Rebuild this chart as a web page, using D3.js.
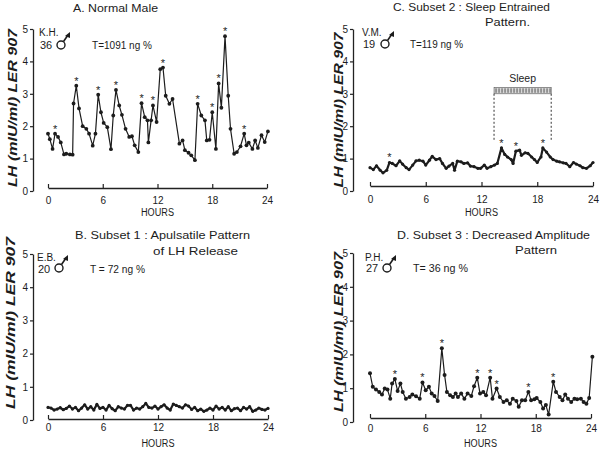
<!DOCTYPE html>
<html>
<head>
<meta charset="utf-8">
<script src="https://cdn.jsdelivr.net/npm/d3@7"></script>
<style>
body { margin: 0; background: #fff; }
svg { display: block; }
text { font-family: "Liberation Sans", Arial, sans-serif; fill: #1c1c1c; }
</style>
</head>
<body>
<script>
// hour ticks shared by all four panels
var hourTicks = [0, 6, 12, 18, 24];
var lhTicks = [0, 1, 2, 3, 4, 5];

// A. Normal Male
var aHours = [0, 0.2, 0.5, 0.77, 1.1, 1.4, 1.75, 2.0, 2.4, 2.7, 2.8, 3.1, 3.4, 3.8, 4.2, 4.5, 4.9, 5.2, 5.5, 5.8,
  6.1, 6.5, 6.9, 7.15, 7.45, 7.8, 8.1, 8.5, 8.9, 9.2, 9.5, 9.9, 10.25, 10.6, 10.9, 11.0, 11.3, 11.5, 11.9, 12.3,
  12.6, 12.9, 13.3, 13.65, 14.4, 14.75, 15.0, 15.4, 15.7, 16.1, 16.4, 16.8, 17.2, 17.4, 17.7, 18.0, 18.4, 18.7, 19.0, 19.4,
  19.75, 20.0, 20.4, 20.7, 21.1, 21.5, 21.75, 22.0, 22.4, 22.7, 23.0, 23.4, 23.75, 24.1];
var aValues = [1.77, 1.6, 1.3, 1.77, 1.67, 1.5, 1.13, 1.15, 1.13, 1.12, 2.7, 3.25, 2.55, 2.0, 1.92, 1.77, 1.4, 1.77, 2.97, 2.43,
  2.1, 1.97, 1.29, 2.33, 3.12, 2.64, 2.35, 1.92, 1.67, 1.69, 1.41, 1.2, 2.71, 2.28, 2.18, 1.5, 2.18, 2.64, 2.13, 3.76,
  3.81, 2.94, 2.69, 2.84, 1.46, 1.56, 1.26, 1.18, 1.1, 0.95, 2.69, 2.33, 2.18, 1.56, 1.58, 2.43, 1.3, 3.32, 2.57, 4.78,
  2.94, 1.92, 1.15, 1.2, 1.38, 1.77, 1.41, 1.49, 1.3, 1.56, 1.33, 1.72, 1.51, 1.84];
var aStars = [0.77, 3.1, 5.5, 7.45, 10.25, 11.5, 12.6, 16.4, 18.0, 18.7, 19.4, 21.5];

// B. Subset 1 (one sample every 20 min)
var bValues = [0.38, 0.36, 0.30, 0.33, 0.37, 0.31, 0.35, 0.42, 0.33, 0.38, 0.28, 0.36, 0.46, 0.33, 0.40, 0.30, 0.47, 0.35,
  0.38, 0.30, 0.44, 0.34, 0.28, 0.40, 0.36, 0.33, 0.44, 0.44, 0.30, 0.36, 0.33, 0.40, 0.50, 0.38, 0.36, 0.42, 0.33,
  0.40, 0.46, 0.36, 0.30, 0.48, 0.44, 0.40, 0.36, 0.46, 0.42, 0.32, 0.38, 0.28, 0.33, 0.26, 0.30, 0.36, 0.30, 0.42,
  0.33, 0.38, 0.30, 0.40, 0.28, 0.34, 0.36, 0.28, 0.38, 0.33, 0.40, 0.26, 0.30, 0.36, 0.32, 0.30, 0.35];
var bHours = bValues.map(function(v, i) { return i * 24 / (bValues.length - 1); });
var bStars = [];

// C. Subset 2 : Sleep Entrained
var cHours = [0, 0.36, 0.7, 1.1, 1.4, 1.8, 2.1, 2.4, 2.8, 3.2, 3.5, 3.9, 4.2, 4.6, 4.95, 5.3, 5.7, 6.0, 6.4, 6.7,
  7.1, 7.5, 7.8, 8.2, 8.5, 8.9, 9.1, 9.4, 9.8, 10.1, 10.5, 10.8, 11.2, 11.6, 11.9, 12.3, 12.6, 13.0, 13.4, 13.7,
  14.15, 14.5, 14.8, 15.2, 15.4, 15.7, 16.1, 16.3, 16.7, 17.0, 17.4, 17.7, 18.0, 18.4, 18.6, 19.0, 19.4, 19.7, 20.1, 20.4,
  20.8, 21.1, 21.5, 21.9, 22.2, 22.6, 22.9, 23.3, 23.7, 24.0];
var cValues = [0.72, 0.66, 0.78, 0.64, 0.56, 0.64, 0.88, 0.85, 0.78, 0.93, 0.83, 0.72, 0.66, 0.8, 0.93, 0.95, 0.92, 0.8, 0.95, 1.07,
  0.97, 1.0, 0.85, 0.7, 0.77, 0.85, 0.64, 0.92, 0.9, 0.85, 0.87, 0.77, 0.75, 0.7, 0.7, 0.8, 0.7, 0.75, 0.8, 0.85,
  1.33, 1.13, 1.05, 0.97, 0.85, 1.23, 1.26, 1.1, 1.18, 1.16, 1.05, 0.97, 0.88, 1.05, 1.33, 1.2, 1.05, 0.97, 0.92, 0.9,
  0.87, 0.85, 0.75, 0.88, 0.83, 0.78, 0.72, 0.7, 0.78, 0.88];
var cStars = [2.1, 14.15, 15.7, 18.6];
var sleepHours = [13.35, 19.5];

// D. Subset 3 : Decreased Amplitude
var dHours = [0, 0.3, 0.65, 1.0, 1.3, 1.6, 1.9, 2.2, 2.4, 2.7, 3.0, 3.3, 3.55, 3.9, 4.3, 4.6, 5.0, 5.4, 5.7, 6.05,
  6.4, 6.7, 7.0, 7.35, 7.8, 8.1, 8.35, 8.7, 9.0, 9.3, 9.55, 9.9, 10.25, 10.6, 11.0, 11.3, 11.65, 11.95, 12.3, 12.6,
  13.05, 13.3, 13.75, 14.1, 14.5, 14.85, 15.2, 15.5, 15.9, 16.15, 16.5, 16.85, 17.2, 17.5, 17.85, 18.1, 18.5, 18.8, 19.1, 19.4,
  19.9, 20.2, 20.6, 20.9, 21.2, 21.5, 21.85, 22.2, 22.5, 22.9, 23.2, 23.5, 23.8, 24.15];
var dValues = [1.44, 1.04, 0.96, 0.89, 0.81, 0.99, 0.96, 0.69, 1.14, 1.27, 0.92, 1.14, 0.89, 0.69, 0.74, 0.81, 0.76, 0.69, 1.17, 0.94,
  1.04, 0.84, 0.77, 0.62, 2.18, 1.39, 0.89, 0.79, 0.74, 0.84, 0.74, 0.84, 0.69, 0.84, 0.77, 1.06, 1.31, 0.84, 0.89, 0.79,
  1.31, 0.69, 0.99, 0.74, 0.59, 0.64, 0.54, 0.69, 0.62, 0.45, 0.64, 0.64, 0.89, 0.64, 0.67, 0.71, 0.59, 0.4, 0.5, 0.22,
  1.19, 0.89, 0.74, 0.64, 0.81, 0.69, 0.59, 0.69, 0.67, 0.69, 0.59, 0.54, 0.71, 1.93];
var dStars = [2.7, 5.7, 7.8, 11.65, 13.05, 13.75, 17.2, 19.9];

var width = 600;
var height = 449;

var svg = d3.select('body').append('svg')
  .attr('width', width)
  .attr('height', height);

var panels = [
  { hours: aHours, values: aValues, stars: aStars,
    axisX: 33, x0: 48, x1: 267, y0: 191, y5: 29, hourY: 188, tickY: 204, hoursLabelY: 216,
    weight: 1.2, dot: 1.9,
    yLabel: { x: 12, y: 108, len: 158 },
    title: [{ t: 'A.  Normal Male', x: 73, y: 12, len: 85 }],
    name: 'K.H.', age: '36', nameX: 39, nameY: 36, ageY: 49, sex: [61, 45], tLabel: 'T=1091 ng %', tX: 92, tLen: 60 },
  { hours: bHours, values: bValues, stars: bStars,
    axisX: 33, x0: 48, x1: 268, y0: 420, y5: 254, hourY: 419, tickY: 431, hoursLabelY: 447,
    weight: 2.2, dot: 1.6,
    yLabel: { x: 10, y: 323, len: 172 },
    title: [{ t: 'B.  Subset 1 : Apulsatile Pattern', x: 75, y: 239, len: 175 },
            { t: 'of LH Release', x: 153, y: 255, len: 85 }],
    name: 'E.B.', age: '20', nameX: 37, nameY: 261, ageY: 273, sex: [59, 268], tLabel: 'T = 72 ng %', tX: 90, tLen: 55 },
  { hours: cHours, values: cValues, stars: cStars, sleep: sleepHours,
    axisX: 353, x0: 370, x1: 593, y0: 191, y5: 29, hourY: 186, tickY: 203, hoursLabelY: 216,
    weight: 2.2, dot: 1.6,
    yLabel: { x: 338, y: 110, len: 155 },
    title: [{ t: 'C.  Subset 2 : Sleep Entrained', x: 393, y: 11, len: 157 },
            { t: 'Pattern.', x: 485, y: 26, len: 45 }],
    name: 'V.M.', age: '19', nameX: 362, nameY: 36, ageY: 48, sex: [385, 44], tLabel: 'T=119 ng %', tX: 410, tLen: 53 },
  { hours: dHours, values: dValues, stars: dStars,
    axisX: 353, x0: 370, x1: 591, y0: 422, y5: 253, hourY: 418, tickY: 432, hoursLabelY: 447,
    weight: 1.2, dot: 2.0,
    yLabel: { x: 338, y: 332, len: 160 },
    title: [{ t: 'D.  Subset 3 : Decreased Amplitude', x: 397, y: 239, len: 193 },
            { t: 'Pattern', x: 515, y: 254, len: 42 }],
    name: 'P.H.', age: '27', nameX: 365, nameY: 261, ageY: 272, sex: [387, 268], tLabel: 'T= 36 ng %', tX: 413, tLen: 55 }
];

panels.forEach(function(p) {
  var g = svg.append('g');

  var x = d3.scaleLinear().domain([0, 24]).range([p.x0, p.x1]);
  var y = d3.scaleLinear().domain([0, 5]).range([p.y0, p.y5]);

  // y axis
  var yAxis = g.append('g')
    .attr('transform', 'translate(' + p.axisX + ',0)')
    .call(d3.axisLeft(y).tickValues(lhTicks).tickFormat(d3.format('d'))
      .tickSize(3).tickPadding(2).tickSizeOuter(0));
  yAxis.select('.domain').attr('stroke', '#222').attr('stroke-width', 1.3);
  yAxis.selectAll('line').attr('stroke', '#222').attr('stroke-width', 1.2);
  yAxis.selectAll('text').attr('font-size', 10).attr('font-family', '"Liberation Sans", Arial, sans-serif').attr('fill', '#1c1c1c');

  // hours axis, ticks point up
  var xAxis = g.append('g')
    .attr('transform', 'translate(0,' + p.hourY + ')')
    .call(d3.axisBottom(x).tickValues(hourTicks).tickSize(-4).tickSizeOuter(0).tickPadding(0));
  xAxis.select('.domain').attr('stroke', '#222').attr('stroke-width', 1.3);
  xAxis.selectAll('line').attr('stroke', '#222').attr('stroke-width', 1.2);
  xAxis.selectAll('text')
    .attr('y', p.tickY - p.hourY).attr('dy', 0)
    .attr('font-size', 10).attr('font-family', '"Liberation Sans", Arial, sans-serif').attr('fill', '#1c1c1c');

  g.append('text')
    .attr('x', (p.x0 + p.x1) / 2)
    .attr('y', p.hoursLabelY)
    .attr('text-anchor', 'middle')
    .attr('font-size', 10)
    .attr('textLength', 33)
    .attr('lengthAdjust', 'spacingAndGlyphs')
    .text('HOURS');

  // rotated y label
  g.append('text')
    .attr('transform', 'translate(' + (p.yLabel.x + 5) + ',' + p.yLabel.y + ') rotate(-90)')
    .attr('text-anchor', 'middle')
    .attr('font-size', 13)
    .attr('font-style', 'italic')
    .attr('font-weight', 'bold')
    .attr('textLength', p.yLabel.len)
    .attr('lengthAdjust', 'spacingAndGlyphs')
    .text('LH (mIU/ml) LER 907');

  // titles
  p.title.forEach(function(t) {
    g.append('text')
      .attr('x', t.x).attr('y', t.y)
      .attr('font-size', 11.5)
      .attr('textLength', t.len)
      .attr('lengthAdjust', 'spacingAndGlyphs')
      .text(t.t);
  });

  // subject info
  g.append('text').attr('x', p.nameX).attr('y', p.nameY).attr('font-size', 10).text(p.name);
  g.append('text').attr('x', p.nameX + 1).attr('y', p.ageY).attr('font-size', 11).text(p.age);
  g.append('text').attr('x', p.tX).attr('y', p.ageY).attr('font-size', 10.5)
    .attr('textLength', p.tLen).attr('lengthAdjust', 'spacingAndGlyphs').text(p.tLabel);

  // male symbol
  var sx = p.sex[0], sy = p.sex[1];
  g.append('circle').attr('cx', sx).attr('cy', sy).attr('r', 4)
    .attr('fill', 'none').attr('stroke', '#1c1c1c').attr('stroke-width', 1.4);
  g.append('line').attr('x1', sx + 2.5).attr('y1', sy - 3.5).attr('x2', sx + 7).attr('y2', sy - 10)
    .attr('stroke', '#1c1c1c').attr('stroke-width', 1.6);
  g.append('path')
    .attr('d', 'M' + (sx + 9) + ',' + (sy - 13) + ' L' + (sx + 4) + ',' + (sy - 9) + ' L' + (sx + 9) + ',' + (sy - 7) + ' Z')
    .attr('fill', '#1c1c1c');

  // sleep bar
  if (p.sleep) {
    var sx0 = x(p.sleep[0]), sx1 = x(p.sleep[1]);
    var barTop = y(3.2), barBot = y(3.0);
    g.append('rect').attr('x', sx0).attr('y', barTop).attr('width', sx1 - sx0).attr('height', barBot - barTop)
      .attr('fill', '#d8d8d8').attr('stroke', '#555').attr('stroke-width', 0.6);
    g.append('g').selectAll('line').data(d3.range(sx0 + 2, sx1 - 1, 3)).enter().append('line')
      .attr('x1', function(d) { return d; }).attr('x2', function(d) { return d; })
      .attr('y1', barTop + 1).attr('y2', barBot - 1)
      .attr('stroke', '#555').attr('stroke-width', 1);
    [sx0, sx1].forEach(function(xx) {
      g.append('line').attr('x1', xx).attr('x2', xx).attr('y1', barBot).attr('y2', y(1.55))
        .attr('stroke', '#333').attr('stroke-width', 1).attr('stroke-dasharray', '2,2');
    });
    g.append('text').attr('x', (sx0 + sx1) / 2).attr('y', barTop - 5)
      .attr('text-anchor', 'middle').attr('font-size', 10.5).text('Sleep');
  }

  // series
  var pts = p.hours.map(function(h, i) { return [h, p.values[i]]; });
  var line = d3.line().x(function(d) { return x(d[0]); }).y(function(d) { return y(d[1]); });

  g.append('path')
    .datum(pts)
    .attr('d', line)
    .attr('fill', 'none')
    .attr('stroke', '#1c1c1c')
    .attr('stroke-width', p.weight)
    .attr('stroke-linejoin', 'round');

  g.append('g').selectAll('circle').data(pts).enter().append('circle')
    .attr('cx', function(d) { return x(d[0]); })
    .attr('cy', function(d) { return y(d[1]); })
    .attr('r', p.dot)
    .attr('fill', '#1c1c1c');

  // asterisks above pulses
  g.append('g').selectAll('text').data(p.stars).enter().append('text')
    .attr('x', function(h) { return x(h); })
    .attr('y', function(h) {
      var d = d3.least(pts, function(q) { return Math.abs(q[0] - h); });
      return y(d[1]) - 1;
    })
    .attr('text-anchor', 'middle')
    .attr('font-size', 11)
    .attr('fill', '#1c1c1c')
    .text('*');
});
</script>
</body>
</html>
